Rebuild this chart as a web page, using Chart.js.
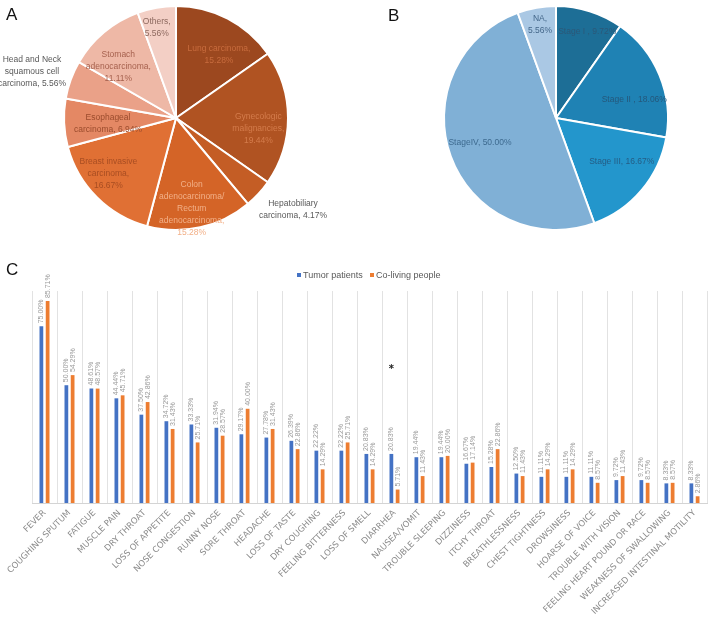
<!DOCTYPE html>
<html>
<head>
<meta charset="utf-8">
<script src="https://cdn.jsdelivr.net/npm/chart.js@4"></script>
<style>
    body { margin: 0; background: #fff; width: 709px; height: 618px; overflow: hidden; position: relative; font-family: "Liberation Sans", Arial, sans-serif; }
    canvas { position: absolute; }
    .panel { position: absolute; font-size: 17px; line-height: 17px; color: #111; }
    .legend { position: absolute; top: 269px; font-size: 9px; line-height: 12px; color: #595959; white-space: nowrap; }
    .legend i { display: inline-block; width: 4px; height: 4px; margin-right: 2px; position: relative; top: -1px; vertical-align: middle; }
</style>
</head>
<body>
<canvas id="pieA" width="352" height="236" style="left:0;top:0"></canvas>
<canvas id="pieB" width="357" height="236" style="left:352px;top:0"></canvas>
<canvas id="barC" width="709" height="378" style="left:0;top:240px"></canvas>
<div class="panel" style="left:6px;top:6px">A</div>
<div class="panel" style="left:388px;top:7px">B</div>
<div class="panel" style="left:6px;top:261px">C</div>
<div class="legend" style="left:297px"><i style="background:#4472C4"></i>Tumor patients</div>
<div class="legend" style="left:370px"><i style="background:#ED7D31"></i>Co-living people</div>

<script>
// panel A - tumor types
const cancerTypes = ['Lung carcinoma', 'Gynecologic malignancies', 'Hepatobiliary carcinoma',
    'Colon adenocarcinoma/Rectum adenocarcinoma', 'Breast invasive carcinoma', 'Esophageal carcinoma',
    'Head and Neck squamous cell carcinoma', 'Stomach adenocarcinoma', 'Others'];
const cancerShares = [15.28, 19.44, 4.17, 15.28, 16.67, 6.94, 5.56, 11.11, 5.56];

// panel B - stages
const stages = ['Stage I ', 'Stage II ', 'Stage III', 'StageIV', 'NA'];
const stageShares = [9.72, 18.06, 16.67, 50.00, 5.56];

// panel C - symptoms
const symptoms = ['FEVER', 'COUGHING SPUTUM', 'FATIGUE', 'MUSCLE PAIN', 'DRY THROAT', 'LOSS OF APPETITE',
    'NOSE CONGESTION', 'RUNNY NOSE', 'SORE THROAT', 'HEADACHE', 'LOSS OF TASTE', 'DRY COUGHING',
    'FEELING BITTERNESS', 'LOSS OF SMELL', 'DIARRHEA', 'NAUSEA/VOMIT', 'TROUBLE SLEEPING', 'DIZZINESS',
    'ITCHY THROAT', 'BREATHLESSNESS', 'CHEST TIGHTNESS', 'DROWSINESS', 'HOARSE OF VOICE',
    'TROUBLE WITH VISION', 'FEELING HEART POUND OR RACE', 'WEAKNESS OF SWALLOWING', 'INCREASED INTESTINAL MOTILITY'];
const tumorPatients = [75.00, 50.00, 48.61, 44.44, 37.50, 34.72, 33.33, 31.94, 29.17, 27.78, 26.39, 22.22, 22.22,
    20.83, 20.83, 19.44, 19.44, 16.67, 15.28, 12.50, 11.11, 11.11, 11.11, 9.72, 9.72, 8.33, 8.33];
const coLiving = [85.71, 54.29, 48.57, 45.71, 42.86, 31.43, 25.71, 28.57, 40.00, 31.43, 22.86, 14.29, 25.71,
    14.29, 5.71, 11.43, 20.00, 17.14, 22.86, 11.43, 14.29, 14.29, 8.57, 11.43, 8.57, 8.57, 2.86];
// significance mark (*) above the tumor bar, value in %
const markSymptom = 'DIARRHEA';
const markValue = 58;

// styles
const cancerColors = ['#9c481f', '#b05322', '#c45d25', '#d46427', '#e07034', '#e48864', '#eaa188', '#eeb8a6', '#f3cfc5'];
const cancerTextColors = ['#c86c3e', '#d47c4c', '#595959', '#f2b088', '#a84d22', '#9b4c2d', '#595959', '#a6614e', '#8e6a60'];
const cancerLabelPos = [[0.384, -0.563], [0.735, 0.092], [1.045, 0.821], [0.140, 0.806], [-0.604, 0.494],
    [-0.607, 0.047], [-1.286, -0.411], [-0.515, -0.458], [-0.172, -0.808]];
const cancerWrap = [68, 68, 74, 68, 68, 74, 74, 68, 34];

const stageColors = ['#1d6e96', '#1f82b4', '#2396cc', '#80b0d6', '#aac8e4'];
const stageTextColors = ['#2b5878', '#24587c', '#245d85', '#3d6a8f', '#44678a'];
const stageLabelPos = [[0.279, -0.768], [0.699, -0.163], [0.587, 0.387], [-0.679, 0.217], [-0.143, -0.833]];
const stageWrap = [120, 120, 120, 120, 30];

function wrapText(ctx, text, maxW) {
    const tokens = [];
    text.split(' ').forEach((w, wi) => {
        w.split(/(?<=\/)/).forEach((p, pi) => tokens.push({t: p, sep: (pi === 0 && wi > 0) ? ' ' : ''}));
    });
    const lines = [];
    let cur = '';
    tokens.forEach(tk => {
        const trial = cur ? cur + tk.sep + tk.t : tk.t;
        if (cur && ctx.measureText(trial).width > maxW) {
            lines.push(cur);
            cur = tk.t;
        } else {
            cur = trial;
        }
    });
    lines.push(cur);
    return lines;
}

const sliceLabels = {
    id: 'sliceLabels',
    afterDatasetsDraw(chart, args, opts) {
        const ctx = chart.ctx;
        const ds = chart.data.datasets[0];
        ctx.save();
        ctx.font = '8.5px "Liberation Sans"';
        ctx.textAlign = 'center';
        ctx.textBaseline = 'middle';
        chart.getDatasetMeta(0).data.forEach((arc, i) => {
            const text = chart.data.labels[i].trim() + (chart.data.labels[i].endsWith(' ') ? ' ' : '') + ', ' + ds.data[i].toFixed(2) + '%';
            const lines = wrapText(ctx, text, opts.wrap[i]);
            const x = arc.x + opts.pos[i][0] * arc.outerRadius;
            const y0 = arc.y + opts.pos[i][1] * arc.outerRadius - (lines.length - 1) * 6;
            ctx.fillStyle = opts.colors[i];
            lines.forEach((l, k) => ctx.fillText(l, x, y0 + k * 12));
        });
        ctx.restore();
    }
};

const barValues = {
    id: 'barValues',
    afterDatasetsDraw(chart) {
        const ctx = chart.ctx;
        ctx.save();
        ctx.font = '7px "Liberation Sans"';
        ctx.fillStyle = '#9a9a9a';
        ctx.textAlign = 'left';
        ctx.textBaseline = 'middle';
        chart.data.datasets.forEach((ds, di) => {
            chart.getDatasetMeta(di).data.forEach((bar, i) => {
                ctx.save();
                ctx.translate(bar.x, bar.y - 3);
                ctx.rotate(-Math.PI / 2);
                ctx.fillText(ds.data[i].toFixed(2) + '%', 0, 0);
                ctx.restore();
            });
        });
        // significance star
        const idx = chart.data.labels.indexOf(markSymptom);
        const bar = chart.getDatasetMeta(0).data[idx];
        ctx.font = 'bold 10px "DejaVu Sans"';
        ctx.fillStyle = '#222';
        ctx.textAlign = 'center';
        ctx.textBaseline = 'alphabetic';
        ctx.fillText('*', bar.x, chart.scales.y.getPixelForValue(markValue) + 5.5);
        ctx.restore();
    }
};

function drawPie(id, labels, values, colors, labelOpts, padLeft) {
    return new Chart(document.getElementById(id), {
        type: 'pie',
        data: {
            labels: labels,
            datasets: [{
                    data: values,
                    backgroundColor: colors,
                    borderColor: '#ffffff',
                    borderWidth: 2,
                    radius: 112
                }]
        },
        options: {
            responsive: false,
            animation: false,
            layout: {padding: {left: padLeft}},
            plugins: {
                legend: {display: false},
                tooltip: {enabled: false},
                sliceLabels: labelOpts
            }
        },
        plugins: [sliceLabels]
    });
}

drawPie('pieA', cancerTypes, cancerShares, cancerColors,
        {pos: cancerLabelPos, colors: cancerTextColors, wrap: cancerWrap}, 0);
drawPie('pieB', stages, stageShares, stageColors,
        {pos: stageLabelPos, colors: stageTextColors, wrap: stageWrap}, 51);

new Chart(document.getElementById('barC'), {
    type: 'bar',
    data: {
        labels: symptoms,
        datasets: [
            {label: 'Tumor patients', data: tumorPatients, backgroundColor: '#4472C4', categoryPercentage: 0.5, barPercentage: 0.6},
            {label: 'Co-living people', data: coLiving, backgroundColor: '#ED7D31', categoryPercentage: 0.5, barPercentage: 0.6}
        ]
    },
    options: {
        responsive: false,
        animation: false,
        layout: {padding: {left: 32, right: 2, top: 51, bottom: 0}},
        plugins: {
            legend: {display: false},
            tooltip: {enabled: false}
        },
        scales: {
            x: {
                grid: {offset: true, color: '#e2e2e2', drawTicks: false},
                border: {color: '#d4d4d4'},
                ticks: {
                    autoSkip: false,
                    maxRotation: 45,
                    minRotation: 45,
                    padding: 5,
                    color: '#8c8c8c',
                    font: {family: 'DejaVu Sans', size: 8.5}
                },
                afterFit: function (scale) {
                    scale.height = 115;
                }
            },
            y: {display: false, min: 0, max: 90}
        }
    },
    plugins: [barValues]
});
</script>
</body>
</html>
